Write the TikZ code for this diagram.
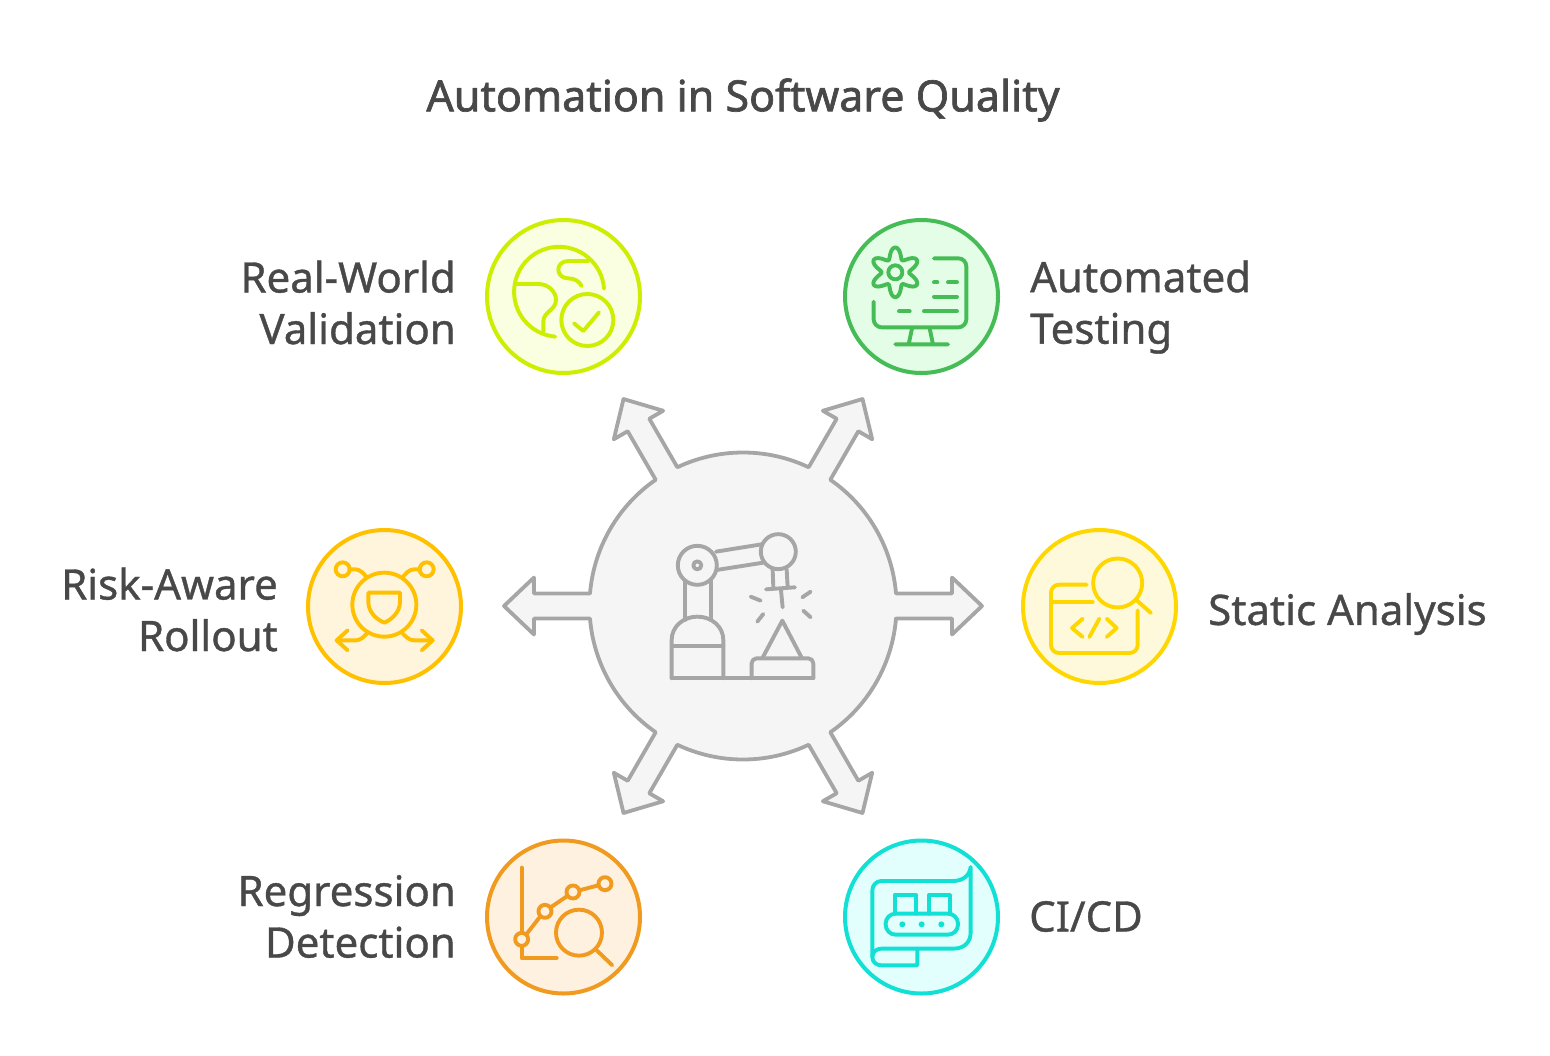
\documentclass[tikz,border=0pt]{standalone}
\usepackage{fontspec}
\setmainfont{Noto Sans}
\newfontfamily\itemfont[FakeBold=.9]{Noto Sans}
\newfontfamily\headfont[FakeBold=1.6]{Noto Sans}
\usepackage{tikz}
\usetikzlibrary{calc}
\definecolor{inktext}{HTML}{484848}
\definecolor{limeline}{HTML}{CDEE00}
\definecolor{limefill}{HTML}{F9FFE0}
\definecolor{greenline}{HTML}{45BC55}
\definecolor{greenfill}{HTML}{E4FDE7}
\definecolor{amberline}{HTML}{FFC000}
\definecolor{amberfill}{HTML}{FFF5DC}
\definecolor{yellowline}{HTML}{FFD700}
\definecolor{yellowfill}{HTML}{FFF9DC}
\definecolor{orangeline}{HTML}{F09A20}
\definecolor{orangefill}{HTML}{FFF1E0}
\definecolor{cyanline}{HTML}{12E0D4}
\definecolor{cyanfill}{HTML}{E2FFFE}
\definecolor{hubline}{HTML}{A6A6A6}
\definecolor{hubfill}{HTML}{F5F5F5}
\tikzset{
	ball/.style 2 args={circle, draw=#1, fill=#2, line width=4pt, minimum size=153pt, inner sep=0pt},
	icon/.style={shift={#1}, x=.3333pt, y=-.3333pt, line width=3.9pt, line cap=round, line join=round},
	item/.style={text=inktext, inner sep=0pt, font=\itemfont\fontsize{42}{51.5}\selectfont},
	heading/.style={text=inktext, inner sep=0pt, font=\headfont\fontsize{43}{50}\selectfont}
}

\begin{document}
\begin{tikzpicture}[x=1pt, y=-1pt]
\useasboundingbox (0,0) rectangle (1550,1055);

\node (title) [heading] at (743,100) {Automation in Software Quality};

% centre with its six arrows
\coordinate (hub) at (743,606);
\draw[draw=hubline, fill=hubfill, line width=3.8pt, line join=round]
([shift={(hub)},rotate=0]153,12.5)
\foreach \a in {0,60,...,300} {
	-- ([shift={(hub)},rotate=\a]209,12.5) -- ([shift={(hub)},rotate=\a]209,28.5)
	-- ([shift={(hub)},rotate=\a]239,0) -- ([shift={(hub)},rotate=\a]209,-28.5)
	-- ([shift={(hub)},rotate=\a]209,-12.5) -- ([shift={(hub)},rotate=\a]153,-12.5)
	arc[start angle=\a+4.67, end angle=\a+55.33, radius=153.5pt]
} -- cycle;

\node (real) [ball={limeline}{limefill}] at (563.5,296.5) {};
\node (auto) [ball={greenline}{greenfill}] at (921.5,296.5) {};
\node (risk) [ball={amberline}{amberfill}] at (384.5,606.5) {};
\node (static) [ball={yellowline}{yellowfill}] at (1099.5,606.5) {};
\node (regr) [ball={orangeline}{orangefill}] at (563.5,917) {};
\node (cicd) [ball={cyanline}{cyanfill}] at (921.5,917) {};

\node (realtext) [item, anchor=east, align=right] at (456,302.5) {Real-World\\Validation};
\node (autotext) [item, anchor=west, align=left] at (1030,307) {Automated\\Testing};
\node (risktext) [item, anchor=east, align=right] at (278,609.5) {Risk-Aware\\Rollout};
\node (statictext) [item, anchor=west] at (1208,614) {Static Analysis};
\node (regrtext) [item, anchor=east, align=right] at (456,916.5) {Regression\\Detection};
\node (cicdtext) [item, anchor=west] at (1029,916.5) {CI/CD};

% robot
\begin{scope}[icon={(490,390)}, color=hubline]
\draw (545,865) -- (970,865);
\draw (545,865) -- (545,750) .. controls (545,710) and (580,680) .. (622,680)
	.. controls (665,680) and (700,710) .. (700,750) -- (700,865);
\draw (545,768) -- (700,768);
\draw (585,690) -- (585,572) (663,690) -- (663,570);
\draw (622,526) circle[radius=19.5pt] (622,526) circle[radius=4pt];
\draw (678,485) -- (815,463) (680,540) -- (820,518);
\draw (865,485) circle[radius=17.5pt];
\draw (848,538) -- (850,590) (890,538) -- (893,590);
\draw (828,598) -- (915,592) (873,600) -- (878,652);
\draw (782,620) -- (812,632) (937,622) -- (962,605);
\draw (802,695) -- (820,672) (940,662) -- (962,682);
\draw (818,803) -- (877,692) -- (935,803);
\draw[rounded corners=5pt] (785,865) -- (785,805) -- (970,805) -- (970,865);
\end{scope}

% globe
\begin{scope}[icon={(480,210)}, color=limeline]
\draw (372,236) arc[start angle=4, end angle=265, radius=45pt];
\draw (108,222) -- (175,222) .. controls (205,222) and (228,245) .. (228,270)
	.. controls (228,300) and (190,305) .. (190,335) -- (190,365);
\draw (325,153) -- (265,153) .. controls (225,153) and (225,205) .. (265,205)
	.. controls (285,205) and (298,215) .. (305,228);
\draw (322,330) circle[radius=26pt];
\draw (282,340) -- (310,363) -- (357,307);
\end{scope}

% gear and monitor
\begin{scope}[icon={(838,210)}, color=greenline]
\draw plot[domain=0:360, samples=73, smooth] ({172+(58-17*cos(6*\x))*cos(\x)},{187-(58-17*cos(6*\x))*sin(\x)}) -- cycle;
\draw (172,187) circle[radius=7pt];
\draw[rounded corners=8pt] (288,145) -- (385,145) -- (385,352) -- (107,352) -- (107,275);
\draw (288,217) -- (298,217) (330,217) -- (357,217) (288,260) -- (357,260);
\draw (183,304) -- (215,304) (258,304) -- (357,304);
\draw (222,355) -- (212,403) (275,355) -- (285,403) (172,403) -- (330,403);
\end{scope}

% shield
\begin{scope}[icon={(300,522)}, color=amberline]
\draw (253,248) circle[radius=32pt];
\draw (128,142) circle[radius=7pt] (380,142) circle[radius=7pt];
\draw[rounded corners=4pt] (148,142) -- (178,142) -- (200,165);
\draw[rounded corners=4pt] (360,142) -- (330,142) -- (308,165);
\draw (205,212) -- (300,212) -- (300,240) .. controls (300,270) and (275,293) .. (253,302)
	.. controls (230,293) and (205,270) .. (205,240) -- cycle;
\draw[rounded corners=4pt] (200,335) -- (180,355) -- (110,355);
\draw (143,325) -- (110,355) -- (143,385);
\draw[rounded corners=4pt] (308,335) -- (330,355) -- (398,355);
\draw (365,325) -- (398,355) -- (365,385);
\end{scope}

% code window
\begin{scope}[icon={(1016,522)}, color=yellowline]
\draw (305,183) circle[radius=24.5pt];
\draw (362,235) -- (405,273);
\draw[rounded corners=8pt] (212,188) -- (105,188) -- (105,393) -- (365,393) -- (365,265);
\draw (108,240) -- (230,240);
\draw (200,290) -- (168,318) -- (200,345) (250,290) -- (220,345) (272,290) -- (302,318) -- (272,345);
\end{scope}

% chart
\begin{scope}[icon={(480,832)}, color=orangeline]
\draw (125,107) -- (125,378) -- (230,378);
\draw (139,307) -- (181,253) (212,226) -- (262,192) (298,175) -- (355,160);
\draw[fill=orangefill] (125,322) circle[radius=6.5pt] (195,238) circle[radius=6.5pt]
	(279,180) circle[radius=6.5pt] (375,155) circle[radius=6.5pt];
\draw (297,302) circle[radius=23pt];
\draw (347,352) -- (397,400);
\end{scope}

% conveyor
\begin{scope}[icon={(838,832)}, color=cyanline]
\draw (398,300) -- (398,105) .. controls (395,130) and (375,147) .. (345,147) -- (130,147)
	.. controls (115,147) and (103,160) .. (103,175) -- (103,375)
	.. controls (103,390) and (115,400) .. (130,400) -- (238,400) -- (238,350);
\draw (103,375) .. controls (103,360) and (115,350) .. (130,350) -- (345,350)
	.. controls (380,350) and (398,330) .. (398,300);
\draw (170,245) -- (170,190) -- (235,190) -- (235,245) (272,245) -- (272,190) -- (335,190) -- (335,245);
\draw[rounded corners=10pt] (143,245) rectangle (360,308);
\fill (193,277) circle[radius=3pt] (251,277) circle[radius=3pt] (310,277) circle[radius=3pt];
\end{scope}
\end{tikzpicture}
\end{document}
